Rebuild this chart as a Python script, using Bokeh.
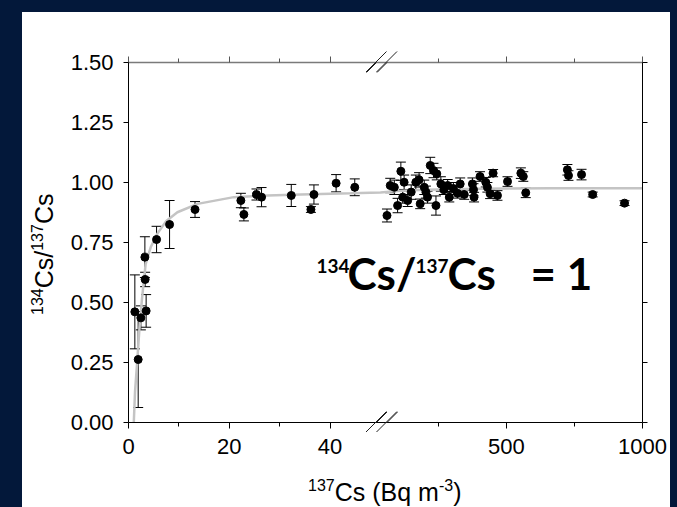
import numpy as np
from bokeh.plotting import figure
from bokeh.layouts import column, row
from bokeh.models import (ColumnDataSource, Range1d, FixedTicker, LinearAxis, Whisker, Div,
                          TeeHead, Label, Arrow, NumeralTickFormatter, CustomJSTickFormatter)
from bokeh.embed import file_html
from bokeh.resources import INLINE

# ---------------- data ----------------
left_x = [1.26, 1.92, 2.45, 3.25, 3.3, 3.5, 5.57, 8.15, 13.2, 22.3, 22.9, 25.4, 26.4,
          32.3, 36.2, 36.8, 41.2, 44.9]
left_y = [0.461, 0.2625, 0.436, 0.689, 0.596, 0.465, 0.7625, 0.825, 0.8875, 0.925, 0.867,
          0.95, 0.939, 0.946, 0.8875, 0.95, 0.997, 0.98]
left_err = [0.154, 0.2, 0.05, 0.085, 0.03, 0.068, 0.055, 0.1, 0.033, 0.03, 0.027,
            0.023, 0.04, 0.046, 0.012, 0.04, 0.036, 0.035]

right_x = [61, 73, 88, 100, 112, 119, 124, 137, 150, 167, 179, 183, 198, 204, 210, 220,
           232, 241, 244, 259, 270, 284, 290, 305, 320, 330, 345, 375, 379, 381, 403, 424,
           430, 440, 451, 467, 504, 553, 562, 571, 724, 728, 776, 817, 934]
right_y = [0.8625, 0.9875, 0.98, 0.904, 1.047, 0.939, 1.001, 0.925, 0.96, 1.001, 1.011,
           0.911, 0.98, 0.96, 0.939, 1.071, 1.05, 0.904, 1.036, 0.994, 0.97, 0.9875, 0.939,
           0.975, 0.955, 0.994, 0.95, 0.994, 0.97, 0.939, 1.025, 1.001, 0.98, 0.953, 1.039,
           0.946, 1.004, 1.039, 1.025, 0.957, 1.053, 1.029, 1.033, 0.95, 0.914]
right_err = [0.027, 0.03, 0.03, 0.03, 0.038, 0.025, 0.03, 0.025, 0.03, 0.03, 0.03, 0.02,
             0.03, 0.025, 0.025, 0.034, 0.03, 0.04, 0.025, 0.03, 0.02, 0.025, 0.02, 0.025,
             0.02, 0.025, 0.02, 0.025, 0.025, 0.02, 0.02, 0.02, 0.02, 0.02, 0.015, 0.02,
             0.02, 0.022, 0.02, 0.02, 0.022, 0.02, 0.022, 0.01, 0.01]

curve_x = [1.05, 1.3, 1.7, 2.2, 2.7, 3.4, 4.4, 5.7, 7.5, 9.7, 13.7, 20.9, 27.6, 34.2,
           44.1, 50, 100, 200, 400, 662, 1000]
curve_y = [0.0, 0.13, 0.245, 0.40, 0.52, 0.66, 0.73, 0.786, 0.84, 0.876, 0.911, 0.939,
           0.946, 0.95, 0.955, 0.958, 0.965, 0.97, 0.974, 0.976, 0.976]

x_major = [0, 20, 40, 500, 1000]
x_major_labels = ["0", "20", "40", "500", "1000"]
x_minor = [10, 30, 250, 750]
y_ticks = [0.0, 0.25, 0.5, 0.75, 1.0, 1.25, 1.5]

x_title = [("137", True), ("Cs (Bq m", False), ("-3", True), (")", False)]
y_title = [("134", True), ("Cs/", False), ("137", True), ("Cs", False)]

# ---------------- broken x axis: piecewise linear scale ----------------
BREAK, GAP, RATE = 50.0, 0.7, 0.054


def fwd(x):
    x = np.asarray(x, dtype=float)
    return np.round(np.where(x <= BREAK, x, BREAK + GAP + (x - BREAK) * RATE), 6)


xs = np.concatenate([left_x, right_x])
ys = np.concatenate([left_y, right_y])
es = np.concatenate([left_err, right_err])
src = ColumnDataSource(dict(u=fwd(xs), y=ys, lo=ys - es, hi=ys + es))

NAVY = "#03183A"
FONT = "Liberation Sans"

X0, X1 = 0.0, float(fwd(1000))
p = figure(width=608, height=458, x_range=Range1d(X0, X1), y_range=Range1d(0, 1.5),
           output_backend="svg", toolbar_location=None,
           min_border_left=66, min_border_right=28, min_border_top=50, min_border_bottom=48)
p.background_fill_color = "white"
p.border_fill_color = "white"
p.outline_line_color = None
p.xgrid.visible = False
p.ygrid.visible = False

# frame geometry in page px (used only to place texts / break marks)
FL, FR, FT, FB = 128.0, 642.0, 62.0, 422.0
PANEL_L, PANEL_T = 22, 12


def ux(px):
    return X0 + (px - FL) / (FR - FL) * (X1 - X0)


def uy(py):
    return (FB - py) / (FB - FT) * 1.5


maj_u = [float(v) for v in fwd(x_major)]
min_u = [float(v) for v in fwd(x_minor)]

xa = p.xaxis[0]
xa.ticker = FixedTicker(ticks=maj_u, minor_ticks=min_u)
xa.major_label_overrides = {u: t for u, t in zip(maj_u, x_major_labels)}
ya = p.yaxis[0]
ya.ticker = FixedTicker(ticks=y_ticks, minor_ticks=[])
ya.formatter = NumeralTickFormatter(format="0.00")

top = LinearAxis(ticker=FixedTicker(ticks=maj_u, minor_ticks=min_u),
                 formatter=CustomJSTickFormatter(code="return ''"))
right = LinearAxis(ticker=FixedTicker(ticks=y_ticks, minor_ticks=[]),
                   formatter=CustomJSTickFormatter(code="return ''"))
p.add_layout(top, "above")
p.add_layout(right, "right")

for ax in (xa, ya, top, right):
    ax.axis_line_color = "black"
    ax.axis_line_width = 1
    ax.major_tick_line_color = "black"
    ax.minor_tick_line_color = "black"
    ax.major_tick_in = 0
    ax.minor_tick_in = 0
    ax.major_tick_out = 6
    ax.minor_tick_out = 4
    ax.major_label_text_font = FONT
    ax.major_label_text_font_size = "22px"
    ax.major_label_text_color = "black"
    ax.major_label_standoff = 10
for ax in (ya, right):
    ax.major_tick_out = 5
for ax in (top, right):
    ax.major_label_standoff = 0
    ax.major_label_text_font_size = "8px"
top.axis_line_color = "#7a7a7a"
top.axis_line_width = 1.5
top.major_tick_line_color = "#555555"
top.minor_tick_line_color = "#555555"

# fitted curve
p.line(fwd(curve_x), curve_y, line_color="#c4c4c4", line_width=2.5)

# error bars
p.add_layout(Whisker(source=src, base="u", lower="lo", upper="hi", dimension="height",
                     line_color="black", line_width=1,
                     upper_head=TeeHead(size=10, line_color="black", line_width=1),
                     lower_head=TeeHead(size=10, line_color="black", line_width=1)))
# points
p.scatter("u", "y", source=src, size=8, fill_color="black", line_color="black")

# axis-break marks (part inside the frame)
BREAK_MARKS = []
for cy in (FT, FB):
    for dx in (0, 10.5):
        x1, y1, x2, y2 = 366 + dx, cy + 10, 386.5 + dx, cy - 10.5
        BREAK_MARKS.append((x1, y1, x2, y2))
        p.add_layout(Arrow(end=None, x_start=ux(x1), y_start=uy(y1), x_end=ux(x2),
                           y_end=uy(y2), line_color="#222222", line_width=1))

# in-plot annotation: 134Cs/137Cs = 1
apieces = [("134", 316, 265, "19px"), ("Cs/", 347, 272, "44px"),
           ("137", 415, 265, "19px"), ("Cs", 447, 272, "44px"), ("= 1", 530, 272, "44px")]
for t, px, py, fs in apieces:
    p.add_layout(Label(x=ux(px), y=uy(py), text=t, text_font="Lato", text_font_style="bold",
                       text_font_size=fs, text_align="left", text_baseline="alphabetic",
                       text_color="black"))

# ---------------- axis titles (HTML with superscripts) ----------------
SUP = "font-size:16px;position:relative;top:-10px;"
BASE = ("white-space:nowrap;font-family:'Liberation Sans',Arial,sans-serif;"
        "font-size:25px;line-height:25px;color:#000;")


def rich(parts):
    return "".join(f'<span style="{SUP}">{t}</span>' if s else t for t, s in parts)


# break marks crossing the axes (drawn over the whole panel)
DIVX_TOP = 470
lines = "".join(
    f'<line x1="{a - PANEL_L}" y1="{b - PANEL_T}" x2="{c - PANEL_L}" y2="{d - PANEL_T}" '
    f'stroke="#222222" stroke-width="1"/>' for a, b, c, d in BREAK_MARKS)
overlay = (f'<div style="position:relative;width:0;height:0;overflow:visible;">'
           f'<svg width="648" height="495" style="position:absolute;left:0;'
           f'top:-{DIVX_TOP - PANEL_T}px;overflow:visible;pointer-events:none;">'
           f'{lines}</svg></div>')

div_x = Div(text=overlay + f'<div style="margin-left:286px;margin-top:10px;{BASE}">'
            f'{rich(x_title)}</div>', width=648, height=37, margin=0)
div_y = Div(text=(f'<div style="margin-left:10px;margin-top:303px;width:0;height:0;">'
                  f'<div style="transform:rotate(-90deg);transform-origin:0 0;{BASE}">'
                  f'{rich(y_title)}</div></div>'),
            width=40, height=458, margin=0)

layout = column(row(div_y, p, margin=0), div_x, margin=(PANEL_T, 7, 0, PANEL_L),
                styles={"background-color": "white"})

html = file_html(layout, INLINE, title="134Cs/137Cs")
html = html.replace("</head>",
                    f"<style>html, body {{ background-color: {NAVY} !important; }}</style></head>", 1)
open("out.html", "w").write(html)
